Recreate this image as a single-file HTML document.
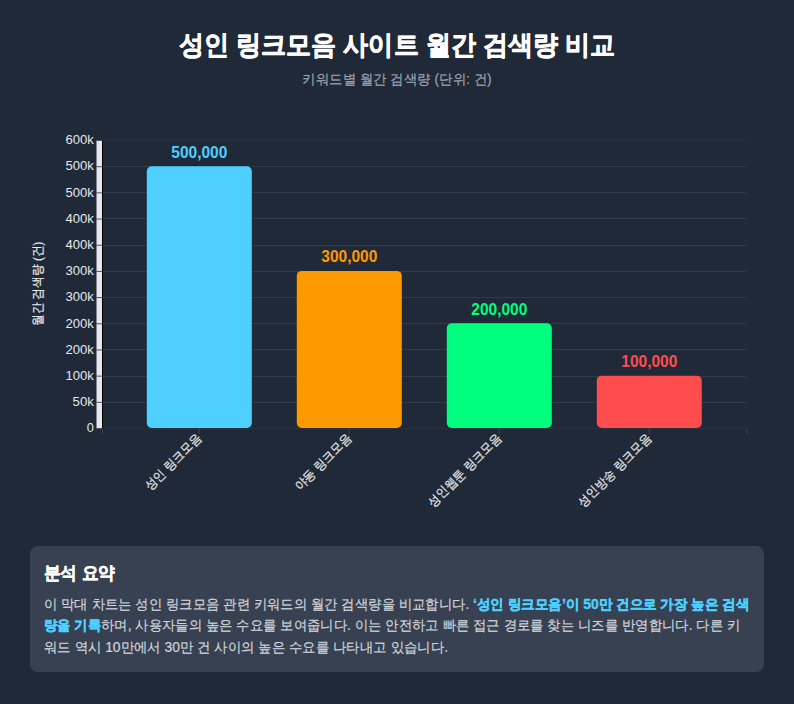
<!DOCTYPE html>
<html lang="ko">
<head>
<meta charset="utf-8">
<title>성인 링크모음 사이트 월간 검색량 비교</title>
<style>
  html, body { margin: 0; padding: 0; }
  body { width: 794px; height: 704px; overflow: hidden; background: #1f2937; font-family: "Liberation Sans", sans-serif; }
  svg { display: block; }
  svg text { font-family: "Liberation Sans", sans-serif; white-space: pre; }
  .grid rect { fill: #333b48; }
  line.xt { stroke: #4b5563; stroke-width: 1; stroke-opacity: 0.65; }
  line.yt { stroke: #4b5563; stroke-width: 1; }
</style>
</head>
<body>
<svg width="794" height="704" viewBox="0 0 794 704">
<g class="grid">
<rect x="103" y="428" width="643" height="1" fill-opacity="0.4"/>
<rect x="103" y="402" width="643" height="1"/>
<rect x="103" y="376" width="643" height="1"/>
<rect x="103" y="349" width="643" height="1"/>
<rect x="103" y="323" width="643" height="1"/>
<rect x="103" y="297" width="643" height="1"/>
<rect x="103" y="271" width="643" height="1"/>
<rect x="103" y="245" width="643" height="1"/>
<rect x="103" y="218" width="643" height="1"/>
<rect x="103" y="192" width="643" height="1"/>
<rect x="103" y="166" width="643" height="1"/>
<rect x="103" y="140" width="643" height="1" fill-opacity="0.4"/>
</g>
<rect x="146.80" y="166.18" width="105.00" height="261.82" rx="5" ry="5" fill="#4dd0ff"/>
<line class="xt" x1="199.30" x2="199.30" y1="428.5" y2="434"/>
<rect x="296.80" y="270.91" width="105.00" height="157.09" rx="5" ry="5" fill="#ff9900"/>
<line class="xt" x1="349.30" x2="349.30" y1="428.5" y2="434"/>
<rect x="446.80" y="323.27" width="105.00" height="104.73" rx="5" ry="5" fill="#00ff7f"/>
<line class="xt" x1="499.30" x2="499.30" y1="428.5" y2="434"/>
<rect x="596.80" y="375.64" width="105.00" height="52.36" rx="5" ry="5" fill="#ff4d4d"/>
<line class="xt" x1="649.30" x2="649.30" y1="428.5" y2="434"/>
<line class="xt" x1="102.5" x2="102.5" y1="428.5" y2="434"/>
<line class="xt" x1="747" x2="747" y1="428.5" y2="434"/>
<rect x="96.5" y="140.5" width="5.5" height="287.5" fill="#e5e7eb"/>
<rect x="102" y="140.6" width="1" height="287.9" fill="#000"/>
<line class="yt" x1="96" x2="102" y1="428.50" y2="428.50"/>
<line class="yt" x1="96" x2="102" y1="402.32" y2="402.32"/>
<line class="yt" x1="96" x2="102" y1="376.14" y2="376.14"/>
<line class="yt" x1="96" x2="102" y1="349.95" y2="349.95"/>
<line class="yt" x1="96" x2="102" y1="323.77" y2="323.77"/>
<line class="yt" x1="96" x2="102" y1="297.59" y2="297.59"/>
<line class="yt" x1="96" x2="102" y1="271.41" y2="271.41"/>
<line class="yt" x1="96" x2="102" y1="245.23" y2="245.23"/>
<line class="yt" x1="96" x2="102" y1="219.05" y2="219.05"/>
<line class="yt" x1="96" x2="102" y1="192.86" y2="192.86"/>
<line class="yt" x1="96" x2="102" y1="166.68" y2="166.68"/>
<line class="yt" x1="96" x2="102" y1="140.50" y2="140.50"/>
<rect x="30" y="546" width="734" height="126" rx="8" ry="8" fill="#374151"/>
<text id="title" font-size="27" fill="#ffffff" stroke="#ffffff" stroke-width="0.7" stroke-linejoin="round" font-weight="bold" text-anchor="middle" x="397.00" y="54.40" textLength="435.25" lengthAdjust="spacingAndGlyphs">성인 링크모음 사이트 월간 검색량 비교</text>
<text id="sub" font-size="14.45" fill="#9ca3af" stroke="#9ca3af" stroke-width="0.2" stroke-linejoin="round" text-anchor="middle" x="397.00" y="84.40" textLength="189.36" lengthAdjust="spacingAndGlyphs">키워드별 월간 검색량 (단위: 건)</text>
<text id="val0" font-size="15.6" fill="#4dd0ff" font-weight="bold" text-anchor="middle" x="199.30" y="157.58" textLength="56.06" lengthAdjust="spacingAndGlyphs">500,000</text>
<text id="xl0" font-size="12.8" fill="#e5e7eb" stroke="#e5e7eb" stroke-width="0.2" stroke-linejoin="round" text-anchor="end" transform="translate(199.30,428) rotate(-45) translate(-5.47,10.67) translate(0,-1.2)" textLength="74.23" lengthAdjust="spacingAndGlyphs">성인 링크모음</text>
<text id="val1" font-size="15.6" fill="#ff9900" font-weight="bold" text-anchor="middle" x="349.30" y="262.31" textLength="56.06" lengthAdjust="spacingAndGlyphs">300,000</text>
<text id="xl1" font-size="12.8" fill="#e5e7eb" stroke="#e5e7eb" stroke-width="0.2" stroke-linejoin="round" text-anchor="end" transform="translate(349.30,428) rotate(-45) translate(-5.47,10.67) translate(0,-1.2)" textLength="74.23" lengthAdjust="spacingAndGlyphs">야동 링크모음</text>
<text id="val2" font-size="15.6" fill="#00ff7f" font-weight="bold" text-anchor="middle" x="499.30" y="314.67" textLength="56.06" lengthAdjust="spacingAndGlyphs">200,000</text>
<text id="xl2" font-size="12.8" fill="#e5e7eb" stroke="#e5e7eb" stroke-width="0.2" stroke-linejoin="round" text-anchor="end" transform="translate(499.30,428) rotate(-45) translate(-5.47,10.67) translate(0,-1.2)" textLength="97.78" lengthAdjust="spacingAndGlyphs">성인웹툰 링크모음</text>
<text id="val3" font-size="15.6" fill="#ff4d4d" font-weight="bold" text-anchor="middle" x="649.30" y="367.04" textLength="56.06" lengthAdjust="spacingAndGlyphs">100,000</text>
<text id="xl3" font-size="12.8" fill="#e5e7eb" stroke="#e5e7eb" stroke-width="0.2" stroke-linejoin="round" text-anchor="end" transform="translate(649.30,428) rotate(-45) translate(-5.47,10.67) translate(0,-1.2)" textLength="97.78" lengthAdjust="spacingAndGlyphs">성인방송 링크모음</text>
<text id="yt0" font-size="12.8" fill="#e5e7eb" text-anchor="end" x="93.90" y="432.30" textLength="7.11" lengthAdjust="spacingAndGlyphs">0</text>
<text id="yt1" font-size="12.8" fill="#e5e7eb" text-anchor="end" x="93.90" y="406.12" textLength="21.28" lengthAdjust="spacingAndGlyphs">50k</text>
<text id="yt2" font-size="12.8" fill="#e5e7eb" text-anchor="end" x="93.90" y="379.94" textLength="28.38" lengthAdjust="spacingAndGlyphs">100k</text>
<text id="yt3" font-size="12.8" fill="#e5e7eb" text-anchor="end" x="93.90" y="353.75" textLength="28.38" lengthAdjust="spacingAndGlyphs">200k</text>
<text id="yt4" font-size="12.8" fill="#e5e7eb" text-anchor="end" x="93.90" y="327.57" textLength="28.38" lengthAdjust="spacingAndGlyphs">200k</text>
<text id="yt5" font-size="12.8" fill="#e5e7eb" text-anchor="end" x="93.90" y="301.39" textLength="28.38" lengthAdjust="spacingAndGlyphs">300k</text>
<text id="yt6" font-size="12.8" fill="#e5e7eb" text-anchor="end" x="93.90" y="275.21" textLength="28.38" lengthAdjust="spacingAndGlyphs">300k</text>
<text id="yt7" font-size="12.8" fill="#e5e7eb" text-anchor="end" x="93.90" y="249.03" textLength="28.38" lengthAdjust="spacingAndGlyphs">400k</text>
<text id="yt8" font-size="12.8" fill="#e5e7eb" text-anchor="end" x="93.90" y="222.85" textLength="28.38" lengthAdjust="spacingAndGlyphs">400k</text>
<text id="yt9" font-size="12.8" fill="#e5e7eb" text-anchor="end" x="93.90" y="196.66" textLength="28.38" lengthAdjust="spacingAndGlyphs">500k</text>
<text id="yt10" font-size="12.8" fill="#e5e7eb" text-anchor="end" x="93.90" y="170.48" textLength="28.38" lengthAdjust="spacingAndGlyphs">500k</text>
<text id="yt11" font-size="12.8" fill="#e5e7eb" text-anchor="end" x="93.90" y="144.30" textLength="28.38" lengthAdjust="spacingAndGlyphs">600k</text>
<text id="ylabel" font-size="12.5" fill="#e5e7eb" stroke="#e5e7eb" stroke-width="0.2" stroke-linejoin="round" text-anchor="middle" transform="translate(43,284) rotate(-90) translate(0,-1.2)" textLength="84.45" lengthAdjust="spacingAndGlyphs">월간 검색량 (건)</text>
<text id="h2" font-size="18" fill="#ffffff" stroke="#ffffff" stroke-width="0.5" stroke-linejoin="round" font-weight="bold" x="43.80" y="579.40" textLength="71.28" lengthAdjust="spacingAndGlyphs">분석 요약</text>
<text id="l1a" font-size="14.43" fill="#d1d5db" stroke="#d1d5db" stroke-width="0.2" stroke-linejoin="round" x="43.90" y="608.70" textLength="429.19" lengthAdjust="spacingAndGlyphs" xml:space="preserve">이 막대 차트는 성인 링크모음 관련 키워드의 월간 검색량을 비교합니다. </text>
<text id="l1b" font-size="14.43" fill="#4dd0ff" stroke="#4dd0ff" stroke-width="0.4" stroke-linejoin="round" font-weight="bold" x="473.09" y="608.70" textLength="276.22" lengthAdjust="spacingAndGlyphs">‘성인 링크모음’이 50만 건으로 가장 높은 검색</text>
<text id="l2a" font-size="14.43" fill="#4dd0ff" stroke="#4dd0ff" stroke-width="0.4" stroke-linejoin="round" font-weight="bold" x="43.90" y="630.20" textLength="57.12" lengthAdjust="spacingAndGlyphs">량을 기록</text>
<text id="l2b" font-size="14.43" fill="#d1d5db" stroke="#d1d5db" stroke-width="0.2" stroke-linejoin="round" x="101.03" y="630.20" textLength="639.14" lengthAdjust="spacingAndGlyphs">하며, 사용자들의 높은 수요를 보여줍니다. 이는 안전하고 빠른 접근 경로를 찾는 니즈를 반영합니다. 다른 키</text>
<text id="l3" font-size="14.43" fill="#d1d5db" stroke="#d1d5db" stroke-width="0.2" stroke-linejoin="round" x="43.90" y="651.70" textLength="404.09" lengthAdjust="spacingAndGlyphs">워드 역시 10만에서 30만 건 사이의 높은 수요를 나타내고 있습니다.</text>
</svg>
</body>
</html>
